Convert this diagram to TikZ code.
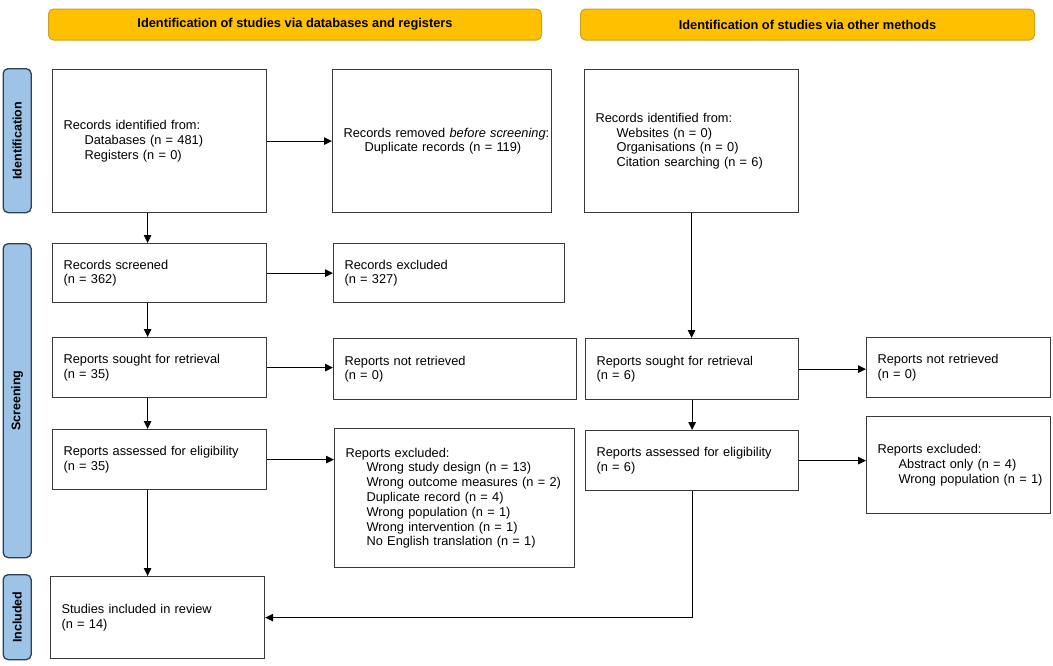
\documentclass[tikz,border=0pt]{standalone}
\usepackage{fontspec}
\setmainfont{Liberation Sans}
\usetikzlibrary{arrows.meta}
\definecolor{hdrfill}{HTML}{FFC000}
\definecolor{hdrline}{HTML}{C9A227}
\definecolor{sidefill}{HTML}{9DC3E6}
\definecolor{sideline}{HTML}{2F3F55}
\definecolor{boxline}{HTML}{3A3A3A}
\begin{document}
\begin{tikzpicture}[x=1pt,y=1pt,
  box/.style={draw=boxline, line width=1.2pt, fill=white, anchor=north west,
    inner xsep=11pt, inner ysep=0pt, align=left,
    font=\fontsize{12.8}{14.8}\selectfont},
  hdr/.style={draw=hdrline, line width=1pt, fill=hdrfill, rounded corners=5pt,
    anchor=north west, inner sep=0pt, font=\fontsize{12.8}{14}\selectfont\bfseries},
  side/.style={draw=sideline, line width=1.3pt, fill=sidefill, rounded corners=5pt,
    anchor=north west, inner sep=0pt},
  sidetext/.style={rotate=90, font=\fontsize{12.5}{14}\selectfont\bfseries},
  arr/.style={-{Triangle[length=8pt,width=7.5pt]}, line width=1pt, black}]
\useasboundingbox (0,0) rectangle (1053,-665);
\fill[white] (0,0) rectangle (1053,-665);
% headers
\node[hdr, minimum width=493pt, minimum height=31pt] (h1) at (48,-8.5) {Identification of studies via databases and registers};
\node[hdr, minimum width=454pt, minimum height=31pt] (h2) at (580,-8.5) {Identification of studies via other methods};
% side labels
\node[side, minimum width=28pt, minimum height=144pt] (s1) at (2.5,-68) {};
\node[sidetext] (s1t) at (s1.center) {Identification};
\node[side, minimum width=28pt, minimum height=314pt] (s2) at (2.5,-243) {};
\node[sidetext] (s2t) at (s2.center) {Screening};
\node[side, minimum width=28pt, minimum height=85pt] (s3) at (2.5,-574) {};
\node[sidetext] (s3t) at (s3.center) {Included};
% boxes
\node[box, minimum width=214pt, minimum height=143pt, text width=192pt] (B1) at (52,-69)
  {Records identified from:\\\hspace*{21pt}Databases (n = 481)\\\hspace*{21pt}Registers (n = 0)};
\node[box, minimum width=219pt, minimum height=143pt, text width=197pt] (B2) at (332,-69)
  {\mbox{Records removed \emph{before screening}:}\\\hspace*{21pt}Duplicate records (n = 119)};
\node[box, minimum width=214pt, minimum height=143pt, text width=192pt] (B3) at (584,-69)
  {Records identified from:\\\hspace*{21pt}Websites (n = 0)\\\hspace*{21pt}Organisations (n = 0)\\\hspace*{21pt}Citation searching (n = 6)};
\node[box, minimum width=214pt, minimum height=59pt, text width=192pt] (S1) at (52,-243)
  {Records screened\\(n = 362)};
\node[box, minimum width=231pt, minimum height=59pt, text width=209pt] (E1) at (333,-243)
  {Records excluded\\(n = 327)};
\node[box, minimum width=214pt, minimum height=60pt, text width=192pt] (R1) at (52,-337)
  {Reports sought for retrieval\\(n = 35)};
\node[box, minimum width=243pt, minimum height=61pt, text width=221pt] (N1) at (333,-338)
  {Reports not retrieved\\(n = 0)};
\node[box, minimum width=214pt, minimum height=60pt, text width=192pt] (A1) at (52,-429)
  {Reports assessed for eligibility\\(n = 35)};
\node[box, minimum width=240pt, minimum height=139pt, text width=218pt] (X1) at (334,-428)
  {Reports excluded:\\\hspace*{21pt}Wrong study design (n = 13)\\\hspace*{21pt}\mbox{Wrong outcome measures (n = 2)}\\\hspace*{21pt}Duplicate record (n = 4)\\\hspace*{21pt}Wrong population (n = 1)\\\hspace*{21pt}Wrong intervention (n = 1)\\\hspace*{21pt}\mbox{No English translation (n = 1)}\\[10pt]};
\node[box, minimum width=214pt, minimum height=82pt, text width=192pt] (I) at (50,-576)
  {Studies included in review\\(n = 14)};
\node[box, minimum width=213pt, minimum height=61pt, text width=191pt] (R2) at (585,-338)
  {Reports sought for retrieval\\(n = 6)};
\node[box, minimum width=184pt, minimum height=60pt, text width=162pt] (N2) at (866,-337)
  {Reports not retrieved\\(n = 0)};
\node[box, minimum width=213pt, minimum height=60pt, text width=191pt] (A2) at (585,-430)
  {\mbox{Reports assessed for eligibility}\\(n = 6)};
\node[box, minimum width=184pt, minimum height=97pt, text width=162pt] (X2) at (866,-416)
  {Reports excluded:\\\hspace*{21pt}\mbox{Abstract only (n = 4)}\\\hspace*{21pt}\mbox{Wrong population (n = 1)}};
% arrows
\draw[arr] (B1.east) -- (B1.east -| B2.west);
\draw[arr] ([xshift=-12pt]B1.south) -- ([xshift=-12pt]B1.south |- S1.north);
\draw[arr] (S1.east) -- (S1.east -| E1.west);
\draw[arr] ([xshift=-12pt]S1.south) -- ([xshift=-12pt]S1.south |- R1.north);
\draw[arr] (R1.east) -- (R1.east -| N1.west);
\draw[arr] ([xshift=-12pt]R1.south) -- ([xshift=-12pt]R1.south |- A1.north);
\draw[arr] (A1.east) -- (A1.east -| X1.west);
\draw[arr] ([xshift=-12pt]A1.south) -- ([xshift=-12pt]A1.south |- I.north);
\draw[arr] (B3.south) -- (B3.south |- R2.north);
\draw[arr] (R2.east) -- (R2.east -| N2.west);
\draw[arr] (R2.south) -- (R2.south |- A2.north);
\draw[arr] (A2.east) -- (A2.east -| X2.west);
\draw[arr] (A2.south) |- (I.east);
\end{tikzpicture}
\end{document}
